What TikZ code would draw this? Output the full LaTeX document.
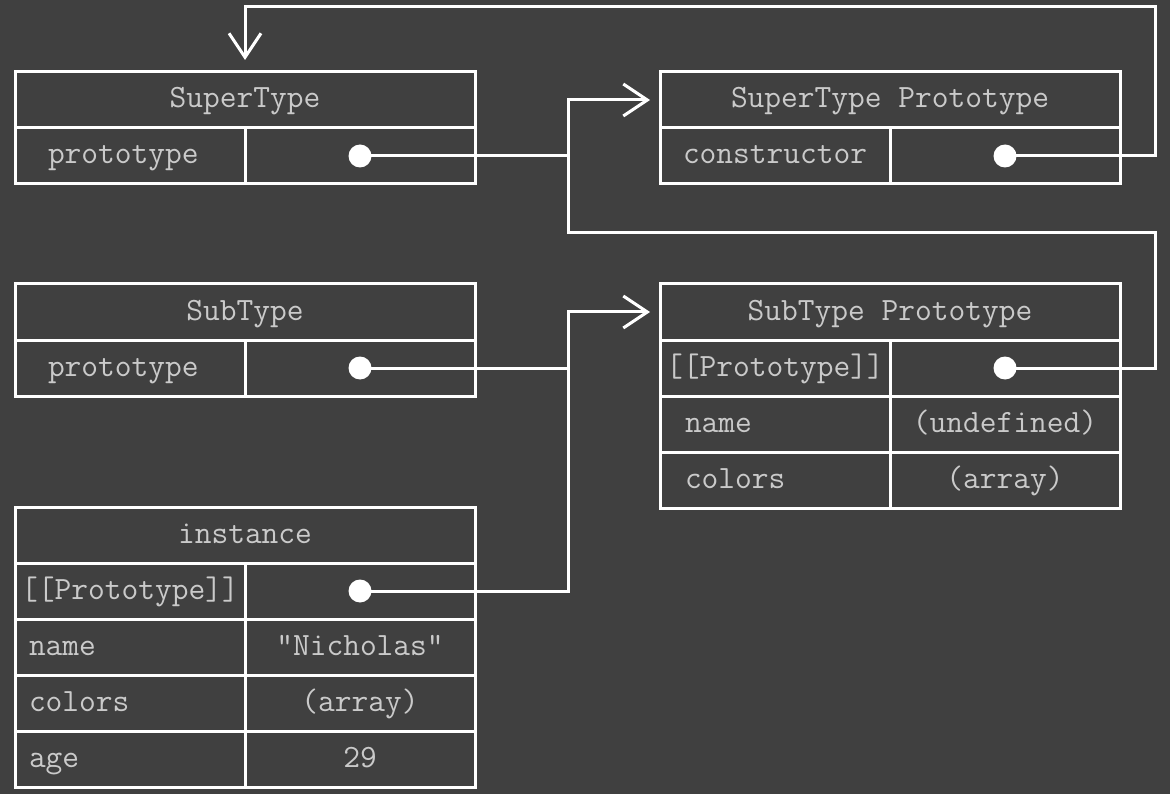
\documentclass[tikz,border=0pt]{standalone}
\usepackage{fontspec}
\usetikzlibrary{positioning, arrows.meta}

\definecolor{slate}{HTML}{404040}
\definecolor{chalk}{HTML}{CACACA}

\tikzset{
  cell/.style = {rectangle, draw = white, line width = 3pt, outer sep = 0pt, inner sep = 0pt,
                 minimum height = 56pt, minimum width = 230pt, text = chalk,
                 font = \ttfamily\fontsize{32.5}{38}\selectfont, text height = 22pt, text depth = 6pt},
  head/.style = {cell, minimum width = 460pt},
  key/.style = {cell, text width = #1, align = left},
  dot/.style = {circle, fill = white, minimum size = 23pt, inner sep = 0pt},
  ptr/.style = {draw = white, line width = 3pt},
  arrowend/.style = {-{Straight Barb[length = 24pt, width = 32pt]}, shorten > = #1},
}

\begin{document}
\begin{tikzpicture}[x = 1pt, y = -1pt]

\fill[slate] (0, 0) rectangle (1170, 794);

% SuperType
\node[head, anchor = north west] (sthead) at (15, 72) {SuperType};
\node[key = 164pt, anchor = north west] (stkey) at (sthead.south west) {prototype};
\node[cell, right = 0pt of stkey] (stval) {};
\node[dot] (stdot) at (stval) {};

% SuperType Prototype
\node[head, anchor = north west] (stphead) at (660, 72) {SuperType Prototype};
\node[key = 184pt, anchor = north west] (stpkey) at (stphead.south west) {constructor};
\node[cell, right = 0pt of stpkey] (stpval) {};
\node[dot] (ctordot) at (stpval) {};

% SubType
\node[head, anchor = north west] (sbhead) at (15, 284) {SubType};
\node[key = 164pt, anchor = north west] (sbkey) at (sbhead.south west) {prototype};
\node[cell, right = 0pt of sbkey] (sbval) {};
\node[dot] (sbdot) at (sbval) {};

% SubType Prototype
\node[head, anchor = north west] (spphead) at (660, 284) {SubType Prototype};
\node[cell, anchor = north west] (sppkey1) at (spphead.south west) {[[Prototype]]};
\node[cell, right = 0pt of sppkey1] (sppval1) {};
\node[dot] (sppdot) at (sppval1) {};
\node[key = 180pt, below = 0pt of sppkey1] (sppkey2) {name};
\node[cell, right = 0pt of sppkey2] (sppval2) {(undefined)};
\node[key = 180pt, below = 0pt of sppkey2] (sppkey3) {colors};
\node[cell, right = 0pt of sppkey3] (sppval3) {(array)};

% instance
\node[head, anchor = north west] (inhead) at (15, 507) {instance};
\node[cell, anchor = north west] (inkey1) at (inhead.south west) {[[Prototype]]};
\node[cell, right = 0pt of inkey1] (inval1) {};
\node[dot] (indot) at (inval1) {};
\node[key = 202pt, below = 0pt of inkey1] (inkey2) {name};
\node[cell, right = 0pt of inkey2] (inval2) {"Nicholas"};
\node[key = 202pt, below = 0pt of inkey2] (inkey3) {colors};
\node[cell, right = 0pt of inkey3] (inval3) {(array)};
\node[key = 202pt, below = 0pt of inkey3] (inkey4) {age};
\node[cell, right = 0pt of inkey4] (inval4) {29};

\coordinate (bus) at (568, 233);
\coordinate (rim) at (1155, 7);

% constructor back to SuperType
\draw[ptr, arrowend = 12pt] (ctordot.center) -| (rim) -| (sthead.north);

% links to SuperType Prototype
\draw[ptr, arrowend = 10pt] (sppdot.center) -| (rim |- bus) -- (bus) |- (stphead.west);
\draw[ptr] (stdot.center) -- (stdot -| bus);

% links to SubType Prototype
\draw[ptr, arrowend = 10pt] (indot.center) -- (indot -| bus) |- (spphead.west);
\draw[ptr] (sbdot.center) -- (sbdot -| bus);

\end{tikzpicture}
\end{document}
